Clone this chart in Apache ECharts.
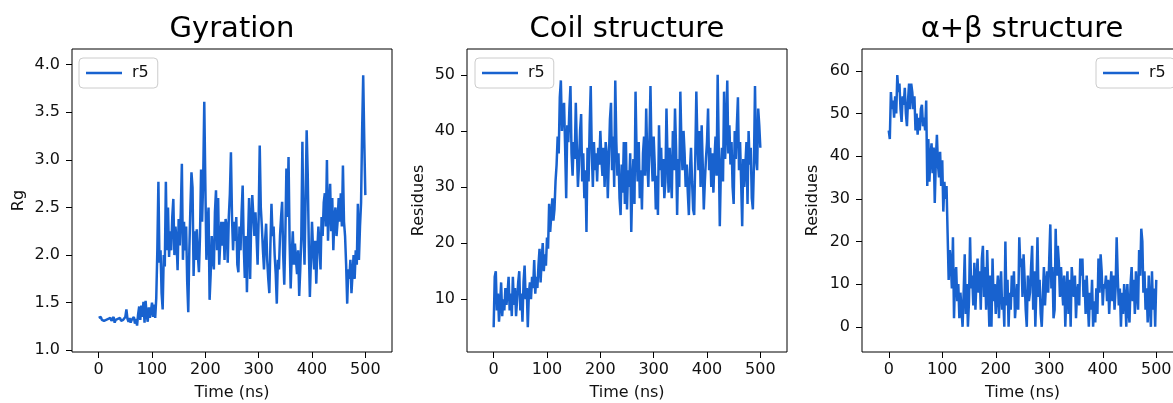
<!DOCTYPE html>
<html>
<head>
<meta charset="utf-8">
<script src="https://cdn.jsdelivr.net/npm/echarts@6/dist/echarts.min.js"></script>
<style>
html,body{margin:0;padding:0;background:#fff;}
#chart{width:1173px;height:403px;}
</style>
</head>
<body>
<div id="chart"></div>
<script>
// ---- data ----
const panelTitles = ['Gyration', 'Coil structure', 'α+β structure'];
const yNames = ['Rg', 'Residues', 'Residues'];
const xName = 'Time (ns)';
const seriesName = 'r5';

const times = [
  0,2,4,6,8,10,12,14,16,18,
  20,22,24,26,28,30,32,34,36,38,
  40,42,44,46,48,50,52,54,56,58,
  60,62,64,66,68,70,72,74,76,78,
  80,82,84,86,88,90,92,94,96,98,
  100,102,104,106,108,110,112,114,116,118,
  120,122,124,126,128,130,132,134,136,138,
  140,142,144,146,148,150,152,154,156,158,
  160,162,164,166,168,170,172,174,176,178,
  180,182,184,186,188,190,192,194,196,198,
  200,202,204,206,208,210,212,214,216,218,
  220,222,224,226,228,230,232,234,236,238,
  240,242,244,246,248,250,252,254,256,258,
  260,262,264,266,268,270,272,274,276,278,
  280,282,284,286,288,290,292,294,296,298,
  300,302,304,306,308,310,312,314,316,318,
  320,322,324,326,328,330,332,334,336,338,
  340,342,344,346,348,350,352,354,356,358,
  360,362,364,366,368,370,372,374,376,378,
  380,382,384,386,388,390,392,394,396,398,
  400,402,404,406,408,410,412,414,416,418,
  420,422,424,426,428,430,432,434,436,438,
  440,442,444,446,448,450,452,454,456,458,
  460,462,464,466,468,470,472,474,476,478,
  480,482,484,486,488,490,492,494,496,498,
  500
];

const gyration = [
  1.34,1.33,1.35,1.32,1.34,1.31,1.33,1.32,1.30,1.33,
  1.32,1.34,1.31,1.33,1.35,1.29,1.32,1.31,1.33,1.32,
  1.34,1.31,1.33,1.32,1.34,1.35,1.43,1.33,1.30,1.34,
  1.29,1.32,1.31,1.35,1.28,1.33,1.26,1.38,1.46,1.32,
  1.47,1.35,1.51,1.29,1.52,1.37,1.30,1.45,1.34,1.41,
  1.50,1.35,1.48,1.34,1.55,2.05,2.77,1.92,2.05,1.60,
  1.43,2.00,1.88,2.77,2.05,2.50,1.98,2.25,2.05,2.40,
  2.59,2.00,2.30,2.15,1.84,2.38,2.10,2.45,2.96,1.95,
  2.35,2.05,2.30,1.72,1.40,2.05,2.50,2.87,2.71,1.78,
  2.25,1.95,2.27,2.00,1.82,2.20,2.90,2.35,2.80,3.61,
  2.75,1.95,2.30,2.50,1.53,1.80,2.20,1.95,1.85,2.45,
  2.68,2.05,2.60,1.90,1.88,2.35,2.10,2.35,1.95,2.38,
  2.30,1.92,2.40,2.64,3.08,2.40,2.05,2.35,2.15,2.40,
  1.90,1.82,2.30,2.05,2.45,2.73,2.10,1.76,2.20,1.61,
  2.15,2.60,1.75,2.35,2.63,2.63,2.20,2.45,2.20,1.90,
  2.40,3.15,2.50,2.30,2.05,1.85,2.15,2.33,1.95,1.75,
  1.60,2.10,2.54,2.20,2.30,2.00,1.80,1.49,1.95,1.85,
  2.20,2.40,2.56,2.00,1.69,2.20,2.91,2.40,3.03,2.15,
  1.65,2.00,2.25,1.90,2.12,1.95,1.80,2.05,1.57,1.85,
  2.20,3.19,2.25,1.90,2.60,3.31,2.85,2.10,1.56,1.95,
  2.35,2.05,1.85,2.15,1.70,2.05,2.30,2.10,1.85,2.40,
  2.20,2.55,2.65,2.30,3.00,2.15,2.50,2.75,2.25,2.60,
  2.05,2.40,2.50,2.20,2.35,2.60,2.35,2.65,2.30,2.94,
  2.35,2.20,1.90,1.49,1.85,1.75,1.95,1.60,1.80,2.00,
  1.75,2.05,1.90,2.54,1.95,2.30,2.55,3.31,3.89,3.20,
  2.63
];

const coil = [
  5,14,15,8,11,6,9,13,7,10,
  8,12,9,11,14,8,11,7,14,9,
  12,7,10,13,15,8,11,6,13,16,
  10,12,5,11,13,10,14,12,17,11,
  14,12,16,19,13,17,20,15,18,16,
  21,19,27,22,25,28,24,26,31,34,
  39,36,46,49,40,44,45,37,28,41,
  38,44,48,36,32,38,35,45,37,30,
  34,40,43,31,36,28,33,22,37,31,
  41,48,36,30,38,33,36,31,37,34,
  40,35,32,37,30,38,36,28,35,42,
  45,33,39,30,49,38,32,36,28,25,
  34,29,38,27,38,26,33,30,36,22,
  31,35,27,47,36,31,38,28,33,26,
  36,39,32,44,35,30,38,48,36,31,
  39,34,26,32,25,41,33,37,30,35,
  28,31,44,35,29,37,32,28,40,33,
  44,37,25,35,30,47,38,33,40,36,
  30,34,29,25,33,37,31,26,25,35,
  47,38,33,40,30,41,34,26,31,35,
  38,44,33,37,30,36,29,35,39,32,
  50,37,23,33,37,31,47,35,40,49,
  36,41,34,38,30,27,40,35,41,46,
  33,38,31,23,35,30,34,38,27,40,
  34,37,28,26,34,48,35,33,44,41,
  37
];

const alphaBeta = [
  46,44,55,51,53,49,54,50,59,55,
  57,51,48,54,52,56,50,47,53,57,
  51,57,55,51,54,46,50,45,49,46,
  51,52,47,49,46,53,33,44,34,40,
  43,36,42,29,39,45,38,35,41,33,
  39,27,34,30,33,22,11,18,15,9,
  21,2,12,14,6,10,2,8,4,0,
  8,17,3,10,0,6,21,9,12,5,
  15,4,11,16,8,13,4,16,19,7,
  14,4,18,9,0,12,0,16,6,10,
  3,8,12,2,9,13,4,7,0,20,
  5,11,0,8,4,12,7,13,2,6,
  10,4,21,14,16,7,17,11,4,0,
  12,6,8,14,19,4,13,0,9,21,
  7,11,3,0,7,14,5,10,13,8,
  16,24,9,14,2,4,23,12,19,15,
  7,14,9,5,12,0,8,13,3,11,
  0,14,10,7,12,2,8,10,5,16,
  12,16,7,11,3,12,6,0,8,4,
  11,0,6,1,9,3,16,8,17,13,
  5,10,9,12,6,11,3,9,13,6,
  12,4,9,21,12,5,9,0,8,3,
  10,7,0,10,4,1,10,14,6,11,
  3,13,8,4,18,12,23,20,8,13,
  4,9,1,12,5,0,13,4,9,0,
  11
];

const xTicks = [0, 100, 200, 300, 400, 500];
const yTicksGyration = [1.0, 1.5, 2.0, 2.5, 3.0, 3.5, 4.0];
const yTicksCoil = [10, 20, 30, 40, 50];
const yTicksAlphaBeta = [0, 10, 20, 30, 40, 50, 60];

// ---- chart ----
const FONT = 'DejaVu Sans';
const LINE_COLOR = '#1862cf';
const TEXT_COLOR = '#111';

const grids = [
  {left: 72, top: 49, width: 320, height: 303},
  {left: 467, top: 49, width: 320, height: 303},
  {left: 862, top: 49, width: 321, height: 303}
];
const yRanges = [[0.982, 4.165], [0.6, 54.6], [-5.9, 65.1]];
const yTickSets = [yTicksGyration, yTicksCoil, yTicksAlphaBeta];
const yGaps = [45, 40, 41];
const allSeries = [gyration, coil, alphaBeta];
const legendLefts = [79, 475, 1096];

const option = {
  animation: false,
  backgroundColor: '#fff',
  textStyle: {fontFamily: FONT},
  grid: grids.map(g => Object.assign({
    show: true, borderColor: '#000', borderWidth: 1, backgroundColor: 'transparent',
    containLabel: false, outerBoundsMode: 'none'
  }, g)),
  xAxis: grids.map((g, i) => ({
    type: 'value', gridIndex: i, min: -50, max: 550, position: 'bottom',
    name: xName, nameLocation: 'middle', nameGap: 33,
    nameTextStyle: {fontSize: 16, color: TEXT_COLOR, fontFamily: FONT},
    axisLine: {show: false, onZero: false},
    axisTick: {show: true, inside: false, length: 6, customValues: xTicks, lineStyle: {color: '#000', width: 1}},
    axisLabel: {customValues: xTicks, fontSize: 16, color: TEXT_COLOR, margin: 10, fontFamily: FONT},
    splitLine: {show: false}
  })),
  yAxis: grids.map((g, i) => ({
    type: 'value', gridIndex: i, min: yRanges[i][0], max: yRanges[i][1], position: 'left',
    name: yNames[i], nameLocation: 'middle', nameGap: yGaps[i], nameRotate: 90,
    nameTextStyle: {fontSize: 16, color: TEXT_COLOR, fontFamily: FONT},
    axisLine: {show: false, onZero: false},
    axisTick: {show: true, inside: false, length: 6, customValues: yTickSets[i], lineStyle: {color: '#000', width: 1}},
    axisLabel: {
      customValues: yTickSets[i], fontSize: 16, color: TEXT_COLOR, margin: 12, fontFamily: FONT,
      formatter: i === 0 ? (v => Number(v).toFixed(1)) : (v => String(Math.round(v)))
    },
    splitLine: {show: false}
  })),
  legend: legendLefts.map(l => ({
    data: [{name: seriesName, icon: 'rect'}], left: l, top: 58, orient: 'horizontal',
    itemWidth: 36, itemHeight: 2.4, padding: [7, 9, 7, 7],
    borderColor: '#cccccc', borderWidth: 1, borderRadius: 4,
    backgroundColor: 'rgba(255,255,255,0.85)', selectedMode: false,
    itemStyle: {color: LINE_COLOR, borderWidth: 0},
    textStyle: {fontSize: 16, color: TEXT_COLOR, fontFamily: FONT, padding: [0, 0, 0, 5], lineHeight: 16}
  })),
  series: allSeries.map((vals, i) => ({
    type: 'line', name: seriesName, xAxisIndex: i, yAxisIndex: i,
    data: times.map((t, k) => [t, vals[k]]),
    symbol: 'none', showSymbol: false,
    lineStyle: {color: LINE_COLOR, width: 2.5},
    itemStyle: {color: LINE_COLOR},
    emphasis: {disabled: true}
  })),
  graphic: grids.map((g, i) => ({
    type: 'text', x: g.left + 160, y: 29,
    style: {text: panelTitles[i], fill: '#000', font: '29px "DejaVu Sans"', textAlign: 'center', textVerticalAlign: 'middle'}
  }))
};

const chart = echarts.init(document.getElementById('chart'), null, {renderer: 'canvas'});
chart.setOption(option);
</script>
</body>
</html>
